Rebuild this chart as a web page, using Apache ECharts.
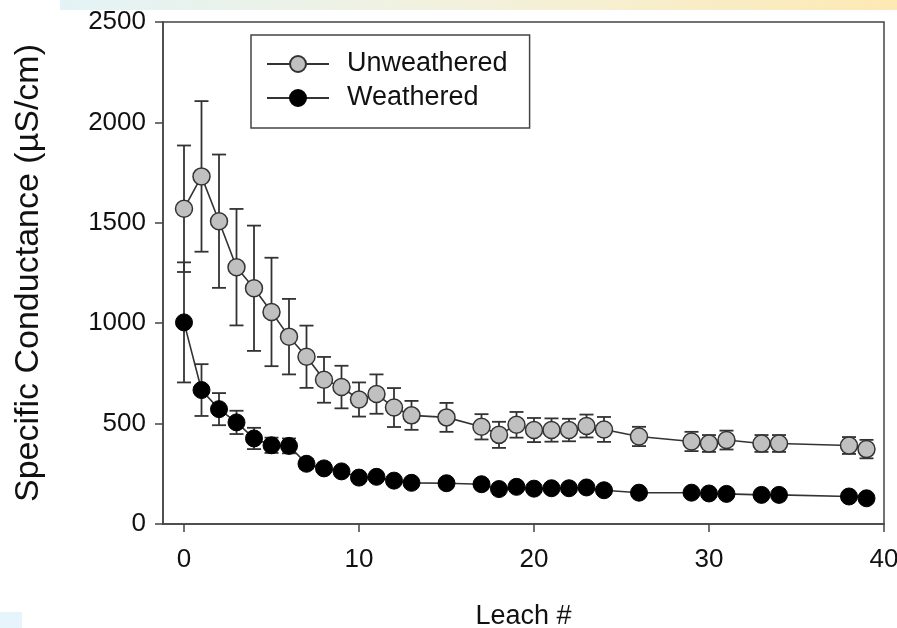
<!DOCTYPE html>
<html>
<head>
<meta charset="utf-8">
<title>Specific Conductance</title>
<script src="https://cdn.jsdelivr.net/npm/echarts@6/dist/echarts.min.js"></script>
<style>
  html, body { margin: 0; padding: 0; background: #fff; }
  #chart { width: 897px; height: 628px; }
</style>
</head>
<body>
<div id="chart"></div>
<script>
// leach number, same for both series
var leach = [0, 1, 2, 3, 4, 5, 6, 7, 8, 9, 10, 11, 12, 13, 15, 17, 18, 19, 20, 21, 22, 23, 24, 26, 29, 30, 31, 33, 34, 38, 39];

var unweathered = [1570, 1731, 1508, 1279, 1174, 1056, 933, 833, 718, 682, 620, 647, 580, 541, 531, 484, 444, 494, 468, 468, 468, 488, 471, 436, 411, 401, 418, 401, 401, 391, 373];
var unweatheredErr = [315, 375, 332, 290, 312, 270, 188, 155, 114, 106, 85, 98, 97, 72, 72, 63, 65, 64, 60, 58, 56, 57, 62, 48, 48, 42, 47, 42, 42, 42, 46];

var weathered = [1004, 667, 572, 506, 426, 392, 389, 300, 277, 262, 231, 235, 216, 205, 203, 198, 174, 185, 176, 178, 178, 182, 168, 156, 156, 152, 150, 145, 145, 137, 128];
var weatheredErr = [299, 129, 80, 58, 53, 38, 37, 25, 20, 18, 15, 15, 12, 10, 10, 10, 10, 10, 10, 10, 10, 10, 10, 8, 8, 8, 8, 8, 8, 8, 8];

var xTicks = [0, 10, 20, 30, 40];

var font = 'Liberation Sans, Arial, sans-serif';
var ink = '#333';

function points(vals) {
  return leach.map(function (x, i) { return [x, vals[i]]; });
}
function bars(vals, errs) {
  return leach.map(function (x, i) { return [x, vals[i] - errs[i], vals[i] + errs[i]]; });
}

// vertical error bar with caps
function renderErr(params, api) {
  var lo = api.coord([api.value(0), api.value(1)]);
  var hi = api.coord([api.value(0), api.value(2)]);
  var w = 7;
  var st = { stroke: ink, lineWidth: 1.8 };
  return {
    type: 'group',
    children: [
      { type: 'line', shape: { x1: lo[0], y1: lo[1], x2: hi[0], y2: hi[1] }, style: st },
      { type: 'line', shape: { x1: lo[0] - w, y1: lo[1], x2: lo[0] + w, y2: lo[1] }, style: st },
      { type: 'line', shape: { x1: hi[0] - w, y1: hi[1], x2: hi[0] + w, y2: hi[1] }, style: st }
    ]
  };
}

var myChart = echarts.init(document.getElementById('chart'));
var option = {
  animation: false,
  backgroundColor: '#fff',
  textStyle: { fontFamily: font },
  graphic: [
    {
      type: 'rect', left: 60, top: 0, z: -1,
      shape: { width: 837, height: 10 },
      style: {
        fill: new echarts.graphic.LinearGradient(0, 0, 1, 0, [
          { offset: 0, color: '#e3f3f6' },
          { offset: 0.5, color: '#f3f1dc' },
          { offset: 1, color: '#fde9b3' }
        ])
      }
    },
    { type: 'rect', left: 0, top: 612, z: -1, shape: { width: 22, height: 16 }, style: { fill: '#e5f5fb' } }
  ],
  grid: {
    left: 163, right: 13, top: 22, bottom: 104,
    outerBoundsMode: 'none', containLabel: false,
    show: true, borderColor: '#444', borderWidth: 1.5
  },
  legend: {
    data: ['Unweathered', 'Weathered'],
    orient: 'vertical',
    left: 251, top: 35,
    itemWidth: 62, itemHeight: 20, itemGap: 4,
    padding: [14, 22, 15, 15],
    borderColor: '#444', borderWidth: 1.5,
    textStyle: { fontSize: 27, color: '#111', lineHeight: 30, padding: [0, 0, 0, 13], fontFamily: font }
  },
  xAxis: {
    type: 'value', min: -1.2, max: 40,
    name: 'Leach #', nameLocation: 'middle', nameGap: 79,
    nameTextStyle: { fontSize: 27, color: '#111', fontFamily: font },
    axisLine: { onZero: false, lineStyle: { color: '#444', width: 1.5 } },
    axisTick: { length: 8, lineStyle: { color: '#444', width: 1.5 }, customValues: xTicks },
    axisLabel: { fontSize: 26, color: '#111', margin: 23, customValues: xTicks, fontFamily: font },
    splitLine: { show: false }
  },
  yAxis: {
    type: 'value', min: 0, max: 2500, interval: 500,
    name: 'Specific Conductance (µS/cm)', nameLocation: 'middle', nameGap: 117,
    nameTextStyle: { fontSize: 34, color: '#111', fontFamily: font },
    axisLine: { show: true, onZero: false, lineStyle: { color: '#444', width: 1.5 } },
    axisTick: { show: true, length: 8, lineStyle: { color: '#444', width: 1.5 } },
    axisLabel: {
      fontSize: 26, color: '#111', margin: 17, fontFamily: font,
      formatter: function (v) { return String(v); }
    },
    splitLine: { show: false }
  },
  series: [
    {
      name: 'Unweathered err', type: 'custom', z: 1,
      renderItem: renderErr, data: bars(unweathered, unweatheredErr), silent: true
    },
    {
      name: 'Weathered err', type: 'custom', z: 1,
      renderItem: renderErr, data: bars(weathered, weatheredErr), silent: true
    },
    {
      name: 'Unweathered', type: 'line', z: 3,
      data: points(unweathered),
      symbol: 'circle', symbolSize: 17,
      lineStyle: { color: ink, width: 1.6 },
      itemStyle: { color: '#c0c0c0', borderColor: ink, borderWidth: 1.5 }
    },
    {
      name: 'Weathered', type: 'line', z: 3,
      data: points(weathered),
      symbol: 'circle', symbolSize: 17,
      lineStyle: { color: ink, width: 1.6 },
      itemStyle: { color: '#000', borderColor: '#000', borderWidth: 1 }
    }
  ]
};
myChart.setOption(option);
</script>
</body>
</html>
